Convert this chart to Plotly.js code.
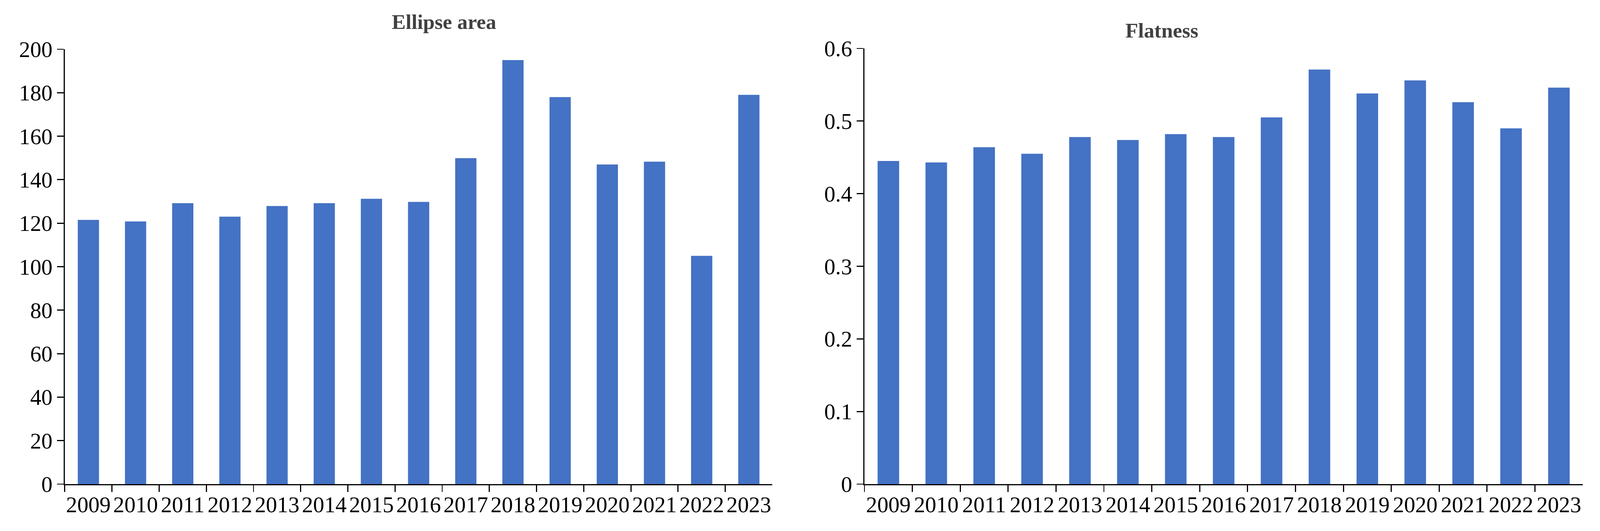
<!DOCTYPE html>
<html>
<head>
<meta charset="utf-8">
<script src="https://cdn.plot.ly/plotly-3.0.1.min.js"></script>
<style>html,body{margin:0;padding:0;background:#fff;overflow:hidden}#chart{width:100vw;height:100vh}</style>
</head>
<body>
<div id="chart"></div>
<script>
const years = ['2009','2010','2011','2012','2013','2014','2015','2016','2017','2018','2019','2020','2021','2022','2023'];
const ellipseArea = [121.5, 120.8, 129.2, 123, 127.9, 129.2, 131.2, 129.8, 149.9, 195, 178, 147, 148.3, 105, 179];
const flatness = [0.445, 0.443, 0.464, 0.455, 0.478, 0.474, 0.482, 0.478, 0.505, 0.571, 0.538, 0.556, 0.526, 0.490, 0.546];

// page may be laid out narrower than 4296 css px, so scale everything from the real size
const W = window.innerWidth, H = window.innerHeight;
const k = W / 4296;

const barColor = '#4472C4';
const tickFont = { family: 'Liberation Serif, Times New Roman, serif', size: 60 * k, color: '#000' };

function xAxis(domain, anchor) {
    return {
        domain: domain, anchor: anchor, type: 'category',
        showline: true, linecolor: '#000', linewidth: 3 * k,
        ticks: 'outside', tickson: 'boundaries', ticklen: 18 * k, tickwidth: 3 * k, tickcolor: '#000',
        tickfont: tickFont, showgrid: false, zeroline: false, tickangle: 0
    };
}
function yAxis(anchor, range, dtick, domain) {
    return {
        anchor: anchor, range: range, dtick: dtick, domain: domain,
        showline: true, linecolor: '#000', linewidth: 3 * k,
        ticks: 'outside', ticklen: 18 * k, tickwidth: 3 * k, tickcolor: '#000',
        tickfont: tickFont, showgrid: false, zeroline: false
    };
}

const traces = [
    { type: 'bar', x: years, y: ellipseArea, xaxis: 'x', yaxis: 'y', marker: { color: barColor }, width: 0.45 },
    { type: 'bar', x: years, y: flatness, xaxis: 'x2', yaxis: 'y2', marker: { color: barColor }, width: 0.45 }
];

const titleFont = { family: 'Liberation Serif, Times New Roman, serif', size: 56 * k, color: '#404040', weight: 'bold' };

const layout = {
    width: W, height: H,
    margin: { l: 0, r: 0, t: 0, b: 0 },
    paper_bgcolor: '#fff', plot_bgcolor: '#fff',
    showlegend: false,
    xaxis: xAxis([174 / 4296, 2074 / 4296], 'y'),
    yaxis: yAxis('x', [0, 200], 20, [1 - 1239 / 1359, 1 - 126 / 1359]),
    xaxis2: xAxis([2321 / 4296, 4250 / 4296], 'y2'),
    yaxis2: yAxis('x2', [0, 0.6], 0.1, [1 - 1239 / 1359, 1 - 124 / 1359]),
    annotations: [
        { text: '<b>Ellipse area</b>', xref: 'paper', yref: 'paper', x: 1050 / 4296, y: 1 - 56 / 1359, showarrow: false, font: titleFont, yanchor: 'middle' },
        { text: '<b>Flatness</b>', xref: 'paper', yref: 'paper', x: 3220 / 4296, y: 1 - 78 / 1359, showarrow: false, font: titleFont, yanchor: 'middle' }
    ]
};

Plotly.newPlot('chart', traces, layout, { staticPlot: true });
</script>
</body>
</html>
